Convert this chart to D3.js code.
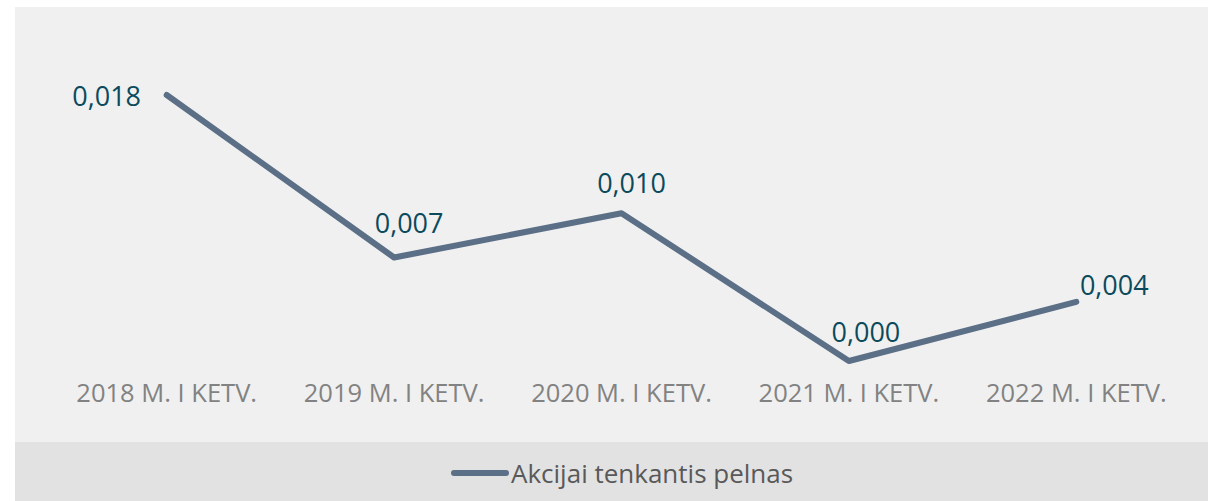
<html>
<head>
  <meta charset="utf-8">
  <title>Akcijai tenkantis pelnas</title>
  <script src="https://d3js.org/d3.v7.min.js"></script>
  <style>
    body { margin: 0; background: #fff; }
    text { font-family: "Open Sans", "Noto Sans", sans-serif; }
  </style>
</head>
<body>
<script>
  // data
  var categories = ["2018 M. I KETV.", "2019 M. I KETV.", "2020 M. I KETV.", "2021 M. I KETV.", "2022 M. I KETV."];
  var values = [0.018, 0.007, 0.010, 0.000, 0.004];
  var seriesName = "Akcijai tenkantis pelnas";

  // where each data label sits relative to its point (as in the original)
  var labelDx = [-60, 15, 10, 17, 38];
  var labelDy = [11, -25, -20, -19, -7];

  var width = 1208;
  var height = 501;

  var svg = d3.select('body')
              .append('svg')
              .attr('width', width)
              .attr('height', height);

  // chart area + legend band
  svg.append('rect')
     .attr('x', 15).attr('y', 7)
     .attr('width', width - 15).attr('height', height - 7)
     .attr('fill', '#f0f0f0');
  svg.append('rect')
     .attr('x', 15).attr('y', 442)
     .attr('width', width - 15).attr('height', height - 442)
     .attr('fill', '#e2e2e2');

  var x = d3.scaleBand()
      .domain(categories)
      .range([53, 1190]);

  var y = d3.scaleLinear()
      .domain([0, 0.018])
      .range([361, 95]);

  var cx = function(d, i) { return x(categories[i]) + x.bandwidth() / 2; };

  // category axis (no line, no ticks)
  var xAxis = svg.append('g')
      .attr('transform', 'translate(0,' + 376 + ')')
      .call(d3.axisBottom(x).tickSize(0).tickPadding(0));
  xAxis.select('.domain').remove();
  xAxis.selectAll('text')
      .attr('y', 26)
      .attr('dy', 0)
      .attr('fill', '#828282')
      .style('font-size', '25.5px')
      .style('font-family', '"Open Sans", sans-serif');

  var line = d3.line()
      .x(cx)
      .y(function(d) { return y(d); });

  svg.append('path')
     .datum(values)
     .attr('d', line)
     .attr('fill', 'none')
     .attr('stroke', '#5b6f87')
     .attr('stroke-width', 6)
     .attr('stroke-linecap', 'round')
     .attr('stroke-linejoin', 'round');

  var fmt = d3.format('.3f');
  svg.append('g')
     .selectAll('text')
     .data(values)
     .enter()
     .append('text')
     .attr('x', function(d, i) { return cx(d, i) + labelDx[i]; })
     .attr('y', function(d, i) { return y(d) + labelDy[i]; })
     .attr('text-anchor', 'middle')
     .attr('fill', '#0b4a5c')
     .style('font-size', '27px')
     .text(function(d) { return fmt(d).replace('.', ','); });

  // legend
  var legend = svg.append('g');
  legend.append('line')
     .attr('x1', 454).attr('x2', 506)
     .attr('y1', 473).attr('y2', 473)
     .attr('stroke', '#5b6f87')
     .attr('stroke-width', 6)
     .attr('stroke-linecap', 'round');
  legend.append('text')
     .attr('x', 511)
     .attr('y', 483)
     .attr('fill', '#595959')
     .style('font-size', '26px')
     .text(seriesName);
</script>
</body>
</html>
